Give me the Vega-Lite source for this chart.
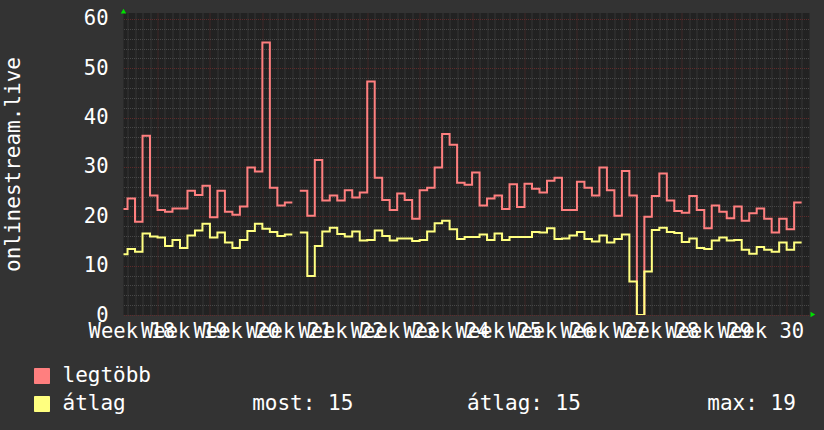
{
  "$schema": "https://vega.github.io/schema/vega-lite/v6.json",
  "width": 686,
  "height": 302,
  "autosize": {"type": "none"},
  "padding": {"left": 123.5, "top": 13, "right": 14.5, "bottom": 115},
  "background": "#333333",
  "view": {"fill": "#222222", "stroke": null},
  "config": {"font": "DejaVu Sans Mono"},
  "datasets": {
    "d": [
      {"t": -5, "legtöbb": 21.5, "átlag": 12.3},
      {"t": -4, "legtöbb": 23.6, "átlag": 13.4},
      {"t": -3, "legtöbb": 18.9, "átlag": 12.8},
      {"t": -2, "legtöbb": 36.3, "átlag": 16.5},
      {"t": -1, "legtöbb": 24.2, "átlag": 15.9},
      {"t": 0, "legtöbb": 21.3, "átlag": 15.7},
      {"t": 1, "legtöbb": 20.9, "átlag": 14.0},
      {"t": 2, "legtöbb": 21.6, "átlag": 15.2},
      {"t": 3, "legtöbb": 21.6, "átlag": 13.6},
      {"t": 4, "legtöbb": 25.2, "átlag": 16.1},
      {"t": 5, "legtöbb": 24.3, "átlag": 17.1},
      {"t": 6, "legtöbb": 26.2, "átlag": 18.5},
      {"t": 7, "legtöbb": 19.8, "átlag": 15.7},
      {"t": 8, "legtöbb": 25.2, "átlag": 16.7},
      {"t": 9, "legtöbb": 20.9, "átlag": 14.7},
      {"t": 10, "legtöbb": 20.3, "átlag": 13.6},
      {"t": 11, "legtöbb": 22.0, "átlag": 15.2},
      {"t": 12, "legtöbb": 29.9, "átlag": 17.0},
      {"t": 13, "legtöbb": 29.1, "átlag": 18.5},
      {"t": 14, "legtöbb": 55.2, "átlag": 17.5},
      {"t": 15, "legtöbb": 25.8, "átlag": 16.8},
      {"t": 16, "legtöbb": 22.2, "átlag": 16.0},
      {"t": 17, "legtöbb": 22.8, "átlag": 16.3},
      {"t": 18, "legtöbb": 22.8, "átlag": 16.3},
      {"t": 18.5, "legtöbb": null, "átlag": null},
      {"t": 19, "legtöbb": 25.2, "átlag": 16.7},
      {"t": 20, "legtöbb": 20.1, "átlag": 7.9},
      {"t": 21, "legtöbb": 31.4, "átlag": 14.0},
      {"t": 22, "legtöbb": 23.2, "átlag": 16.9},
      {"t": 23, "legtöbb": 24.2, "átlag": 17.7},
      {"t": 24, "legtöbb": 23.2, "átlag": 16.4},
      {"t": 25, "legtöbb": 25.3, "átlag": 15.9},
      {"t": 26, "legtöbb": 23.8, "átlag": 16.9},
      {"t": 27, "legtöbb": 24.8, "átlag": 15.1},
      {"t": 28, "legtöbb": 47.3, "átlag": 15.2},
      {"t": 29, "legtöbb": 27.8, "átlag": 17.1},
      {"t": 30, "legtöbb": 23.3, "átlag": 16.0},
      {"t": 31, "legtöbb": 21.3, "átlag": 15.1},
      {"t": 32, "legtöbb": 24.6, "átlag": 15.5},
      {"t": 33, "legtöbb": 23.3, "átlag": 15.5},
      {"t": 34, "legtöbb": 19.5, "átlag": 15.0},
      {"t": 35, "legtöbb": 25.3, "átlag": 15.2},
      {"t": 36, "legtöbb": 25.8, "átlag": 16.9},
      {"t": 37, "legtöbb": 29.9, "átlag": 18.6},
      {"t": 38, "legtöbb": 36.7, "átlag": 19.1},
      {"t": 39, "legtöbb": 34.5, "átlag": 17.4},
      {"t": 40, "legtöbb": 26.8, "átlag": 15.4},
      {"t": 41, "legtöbb": 26.4, "átlag": 15.8},
      {"t": 42, "legtöbb": 28.9, "átlag": 15.8},
      {"t": 43, "legtöbb": 22.2, "átlag": 16.3},
      {"t": 44, "legtöbb": 23.6, "átlag": 15.2},
      {"t": 45, "legtöbb": 24.2, "átlag": 16.5},
      {"t": 46, "legtöbb": 21.5, "átlag": 15.2},
      {"t": 47, "legtöbb": 26.5, "átlag": 15.8},
      {"t": 48, "legtöbb": 21.9, "átlag": 15.8},
      {"t": 49, "legtöbb": 26.6, "átlag": 15.8},
      {"t": 50, "legtöbb": 25.6, "átlag": 16.8},
      {"t": 51, "legtöbb": 24.8, "átlag": 16.7},
      {"t": 52, "legtöbb": 27.2, "átlag": 17.6},
      {"t": 53, "legtöbb": 27.8, "átlag": 15.4},
      {"t": 54, "legtöbb": 21.3, "átlag": 15.5},
      {"t": 55, "legtöbb": 21.3, "átlag": 16.1},
      {"t": 56, "legtöbb": 27.0, "átlag": 16.8},
      {"t": 57, "legtöbb": 25.8, "átlag": 15.4},
      {"t": 58, "legtöbb": 24.2, "átlag": 14.9},
      {"t": 59, "legtöbb": 29.9, "átlag": 16.1},
      {"t": 60, "legtöbb": 25.3, "átlag": 14.7},
      {"t": 61, "legtöbb": 20.1, "átlag": 15.4},
      {"t": 62, "legtöbb": 29.2, "átlag": 16.3},
      {"t": 63, "legtöbb": 24.2, "átlag": 6.8},
      {"t": 64, "legtöbb": 0, "átlag": 0},
      {"t": 65, "legtöbb": 19.9, "átlag": 8.8},
      {"t": 66, "legtöbb": 24.1, "átlag": 17.2},
      {"t": 67, "legtöbb": 28.7, "átlag": 17.7},
      {"t": 68, "legtöbb": 23.2, "átlag": 16.8},
      {"t": 69, "legtöbb": 21.1, "átlag": 16.6},
      {"t": 70, "legtöbb": 20.7, "átlag": 14.8},
      {"t": 71, "legtöbb": 24.1, "átlag": 15.5},
      {"t": 72, "legtöbb": 21.3, "átlag": 13.6},
      {"t": 73, "legtöbb": 17.6, "átlag": 13.4},
      {"t": 74, "legtöbb": 22.2, "átlag": 15.1},
      {"t": 75, "legtöbb": 20.9, "átlag": 15.7},
      {"t": 76, "legtöbb": 19.6, "átlag": 15.1},
      {"t": 77, "legtöbb": 22.0, "átlag": 15.2},
      {"t": 78, "legtöbb": 19.1, "átlag": 13.2},
      {"t": 79, "legtöbb": 20.6, "átlag": 12.4},
      {"t": 80, "legtöbb": 21.6, "átlag": 13.8},
      {"t": 81, "legtöbb": 19.5, "átlag": 13.2},
      {"t": 82, "legtöbb": 16.7, "átlag": 12.8},
      {"t": 83, "legtöbb": 19.5, "átlag": 14.7},
      {"t": 84, "legtöbb": 17.4, "átlag": 13.2},
      {"t": 85, "legtöbb": 22.8, "átlag": 14.7},
      {"t": 86, "legtöbb": 22.8, "átlag": 14.7}
    ]
  },
  "layer": [
    {
      "data": {"name": "d"},
      "transform": [{"fold": ["legtöbb", "átlag"], "as": ["series", "v"]}],
      "mark": {"type": "square", "opacity": 0, "size": 1},
      "encoding": {
        "x": {
          "field": "t", "type": "quantitative",
          "scale": {"domain": [-4.54, 87.05], "nice": false, "zero": false},
          "axis": {
            "orient": "bottom", "title": null, "labels": false, "ticks": false, "tickSize": 0, "domain": false,
            "grid": true, "gridColor": "#484848", "gridDash": [1, 1], "gridWidth": 1,
            "values": [-4, -3, -2, -1, 1, 2, 3, 4, 5, 6, 8, 9, 10, 11, 12, 13, 15, 16, 17, 18, 19, 20, 22, 23, 24, 25, 26, 27, 29, 30, 31, 32, 33, 34, 36, 37, 38, 39, 40, 41, 43, 44, 45, 46, 47, 48, 50, 51, 52, 53, 54, 55, 57, 58, 59, 60, 61, 62, 64, 65, 66, 67, 68, 69, 71, 72, 73, 74, 75, 76, 78, 79, 80, 81, 82, 83, 85, 86]
          }
        },
        "y": {
          "field": "v", "type": "quantitative",
          "scale": {"domain": [0, 61.2], "nice": false, "zero": false},
          "axis": {
            "orient": "left", "title": null, "labels": false, "ticks": false, "tickSize": 0, "domain": false,
            "grid": true, "gridColor": "#484848", "gridDash": [1, 1], "gridWidth": 1,
            "values": [2, 4, 6, 8, 12, 14, 16, 18, 22, 24, 26, 28, 32, 34, 36, 38, 42, 44, 46, 48, 52, 54, 56, 58]
          }
        },
        "fill": {
          "field": "series", "type": "nominal",
          "scale": {"domain": ["legtöbb", "átlag"], "range": ["#ff7f7f", "#ffff7f"]},
          "legend": {
            "orient": "none", "legendX": -92, "legendY": 352.5, "direction": "vertical",
            "title": null, "padding": 0, "symbolType": "square", "symbolSize": 225,
            "symbolStrokeColor": "#000000", "symbolStrokeWidth": 1, "symbolOpacity": 1,
            "labelFont": "DejaVu Sans Mono", "labelFontSize": 21, "labelColor": "#ffffff",
            "labelOffset": 10, "labelLimit": 1000, "rowPadding": 6,
            "labelExpr": "datum.label == 'átlag' ? 'átlag\u00a0\u00a0\u00a0\u00a0\u00a0\u00a0\u00a0\u00a0\u00a0\u00a0most:\u00a015\u00a0\u00a0\u00a0\u00a0\u00a0\u00a0\u00a0\u00a0\u00a0átlag:\u00a015\u00a0\u00a0\u00a0\u00a0\u00a0\u00a0\u00a0\u00a0\u00a0\u00a0max:\u00a019' : datum.label"
          }
        }
      }
    },
    {
      "data": {"name": "d"},
      "transform": [{"fold": ["legtöbb", "átlag"], "as": ["series", "v"]}],
      "mark": {"type": "line", "interpolate": "step-after", "strokeWidth": 2, "clip": true},
      "encoding": {
        "x": {
          "field": "t", "type": "quantitative",
          "scale": {"domain": [-4.54, 87.05], "nice": false, "zero": false},
          "axis": {
            "orient": "bottom", "title": null, "ticks": false, "tickSize": 0, "domain": false,
            "grid": true, "gridColor": "#5e2c2c", "gridDash": [1, 1], "gridWidth": 1,
            "values": [0, 7, 14, 21, 28, 35, 42, 49, 56, 63, 70, 77, 84],
            "labelExpr": "'Week ' + (18 + datum.value / 7)",
            "labelOffset": -26.2, "labelPadding": 6,
            "labelFont": "DejaVu Sans Mono", "labelFontSize": 20.5, "labelColor": "#ffffff",
            "labelOverlap": false, "labelFlush": false, "labelBound": false
          }
        },
        "y": {
          "field": "v", "type": "quantitative",
          "scale": {"domain": [0, 61.2], "nice": false, "zero": false},
          "axis": {
            "orient": "left", "ticks": false, "tickSize": 0, "domain": false,
            "grid": true, "gridColor": "#5e2c2c", "gridDash": [1, 1], "gridWidth": 1,
            "values": [0, 10, 20, 30, 40, 50, 60],
            "labelFont": "DejaVu Sans Mono", "labelFontSize": 20.5, "labelColor": "#ffffff",
            "labelPadding": 15.5, "labelOverlap": false, "labelFlush": false, "labelBound": false,
            "title": "onlinestream.live", "titleFont": "DejaVu Sans Mono", "titleFontSize": 21,
            "titleFontWeight": "normal", "titleColor": "#ffffff", "titleAngle": 270,
            "titleX": -104, "titleY": 151, "titleAlign": "center", "titleBaseline": "alphabetic"
          }
        },
        "color": {
          "field": "series", "type": "nominal",
          "scale": {"domain": ["legtöbb", "átlag"], "range": ["#ff7f7f", "#ffff80"]},
          "legend": null
        }
      }
    },
    {
      "data": {"values": [{}]},
      "mark": {"type": "point", "shape": "triangle-up", "filled": true, "color": "#00e000", "opacity": 1, "size": 30},
      "encoding": {
        "x": {"datum": -4.54, "type": "quantitative", "scale": {"domain": [-4.54, 87.05], "nice": false, "zero": false}, "axis": null},
        "y": {"datum": 61.6, "type": "quantitative", "scale": {"domain": [0, 61.2], "nice": false, "zero": false}, "axis": null}
      }
    },
    {
      "data": {"values": [{}]},
      "mark": {"type": "point", "shape": "triangle-right", "filled": true, "color": "#00e000", "opacity": 1, "size": 30},
      "encoding": {
        "x": {"datum": 87.5, "type": "quantitative", "scale": {"domain": [-4.54, 87.05], "nice": false, "zero": false}, "axis": null},
        "y": {"datum": 0.1, "type": "quantitative", "scale": {"domain": [0, 61.2], "nice": false, "zero": false}, "axis": null}
      }
    }
  ],
  "resolve": {"axis": {"x": "independent", "y": "independent"}}
}
